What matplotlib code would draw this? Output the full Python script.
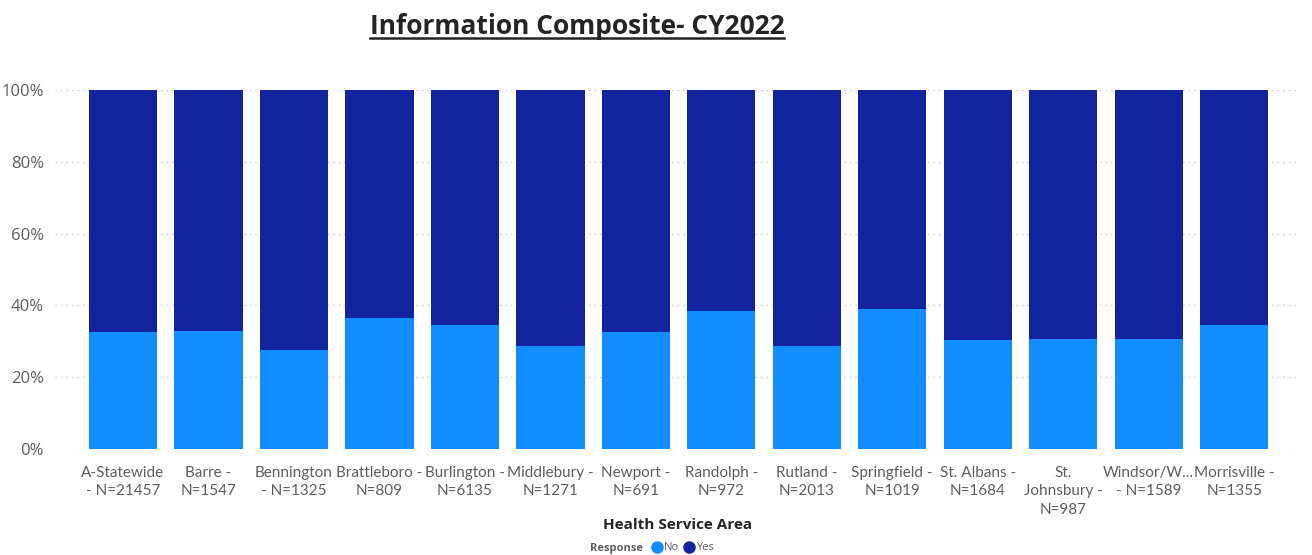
import matplotlib
matplotlib.use("Agg")
import matplotlib.pyplot as plt
import numpy as np
from matplotlib.ticker import PercentFormatter
from matplotlib.lines import Line2D

plt.rcParams["font.family"] = ["Open Sans", "DejaVu Sans"]

areas = [
    "A-Statewide\n- N=21457", "Barre -\nN=1547", "Bennington\n- N=1325", "Brattleboro -\nN=809",
    "Burlington -\nN=6135", "Middlebury -\nN=1271", "Newport -\nN=691", "Randolph -\nN=972",
    "Rutland -\nN=2013", "Springfield -\nN=1019", "St. Albans -\nN=1684", "St.\nJohnsbury -\nN=987",
    "Windsor/W...\n- N=1589", "Morrisville -\nN=1355",
]
no_pct = [32.6, 32.9, 27.6, 36.5, 34.5, 28.7, 32.6, 38.4, 28.7, 39.0, 30.4, 30.6, 30.6, 34.5]
yes_pct = [100 - v for v in no_pct]

c_no = "#118DFF"
c_yes = "#12239E"

fig = plt.figure(figsize=(13.12, 5.55), dpi=100)
ax = fig.add_axes([55 / 1312, 106 / 555, 1245 / 1312, 359 / 555])

x = np.arange(len(areas))
ax.bar(x, no_pct, width=0.8, color=c_no, zorder=3)
ax.bar(x, yes_pct, width=0.8, bottom=no_pct, color=c_yes, zorder=3)

ax.set_xlim(-0.795, 13.77)
ax.set_ylim(0, 100)
ax.set_yticks([0, 20, 40, 60, 80, 100])
ax.yaxis.set_major_formatter(PercentFormatter(decimals=0))
ax.grid(axis="y", color="#c8c8c8", ls=(0, (1, 3)), lw=1, zorder=0)
for s in ax.spines.values():
    s.set_visible(False)
ax.tick_params(axis="both", length=0, colors="#605E5C")
ax.tick_params(axis="y", pad=8, labelsize=12)
ax.set_xticks(x)
ax.set_xticklabels(areas, va="top", linespacing=1.42, fontfamily=["Lato", "DejaVu Sans"], fontsize=11)
ax.tick_params(axis="x", pad=12)
ax.set_xlabel("Health Service Area", fontsize=11, fontweight="bold", color="#252423")
ax.xaxis.set_label_coords(0.5, -(525 - 449) / 359, transform=ax.transAxes)
ax.xaxis.label.set_va("center")

# title with underline
t = fig.text(577 / 1312, 1 - 27 / 555, "Information Composite- CY2022", ha="center", va="center",
             fontsize=19, fontweight="bold", color="#252423")
fig.canvas.draw()
bb = t.get_window_extent().transformed(fig.transFigure.inverted())
fig.add_artist(Line2D([bb.x0, bb.x1], [bb.y0 + 0.004, bb.y0 + 0.004], transform=fig.transFigure,
                      color="#252423", lw=1.8))

# legend
fig.text(643 / 1312, 1 - 548 / 555, "Response", ha="right", va="center", fontsize=8,
         fontweight="bold", color="#605E5C")
handles = [Line2D([], [], marker="o", ls="", color=c_no, markersize=8),
           Line2D([], [], marker="o", ls="", color=c_yes, markersize=8)]
fig.legend(handles, ["No", "Yes"], loc="center left", bbox_to_anchor=(645 / 1312, 1 - 548 / 555),
           ncol=2, frameon=False, fontsize=8, handletextpad=0.0, columnspacing=0.3,
           borderpad=0, handlelength=1.2, labelcolor="#605E5C")

fig.savefig("out.png", dpi=100)
